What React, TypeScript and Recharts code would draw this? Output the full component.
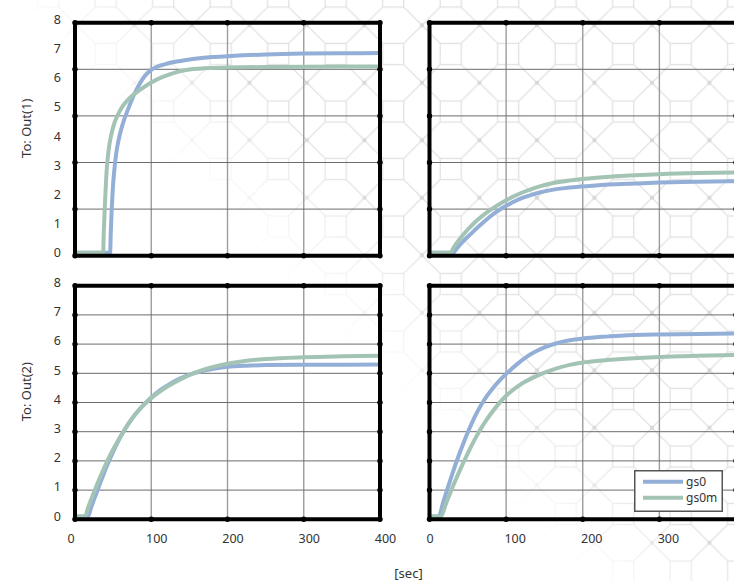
import React from 'react';
import { LineChart, Line, XAxis, YAxis, ReferenceLine, ReferenceDot, Legend } from 'recharts';

// ---------- data ----------
const SERIES_NAMES = ['gs0', 'gs0m'];
const SERIES_COLORS = ['#93afd7', '#a3c4b4'];
const X_TICKS = [0, 100, 200, 300, 400];
const X_LABELS_LEFT = [0, 100, 200, 300, 400];
const X_LABELS_RIGHT = [0, 100, 200, 300];
const Y_TICKS = [0, 1, 2, 3, 4, 5, 6, 7, 8];
const TOP_GRID_Y = [1.6, 3.2, 4.8, 6.4];
const BOTTOM_GRID_Y = [1, 2, 3, 4, 5, 6, 7];
const GRID_X = [100, 200, 300];
const ROW_LABELS = ['To: Out(1)', 'To: Out(2)'];
const X_LABEL = '[sec]';

// [time, value]
const out1Col1Gs0 = [[0,0.1],[46,0.1],[47,0.85],[48,1.5],[49,2.03],[50,2.46],[52,3.06],[54,3.5],[57,3.95],[60,4.28],[64,4.64],[68,4.92],[72,5.19],[77,5.5],[82,5.77],[88,6.04],[94,6.24],[100,6.38],[106,6.47],[112,6.53],[120,6.59],[130,6.65],[142,6.7],[160,6.77],[180,6.82],[200,6.85],[250,6.91],[300,6.94],[350,6.95],[400,6.96]];
const out1Col1Gs0m = [[0,0.1],[37,0.1],[37.5,0.6],[38.5,1.3],[39.5,1.9],[40.6,2.5],[42,3.1],[44,3.6],[46,3.95],[48,4.2],[51,4.5],[55,4.77],[59,4.98],[63,5.15],[69,5.34],[75,5.49],[85,5.69],[100,5.95],[115,6.14],[130,6.28],[142,6.36],[155,6.41],[170,6.44],[200,6.46],[250,6.48],[300,6.49],[400,6.5]];
const out1Col2Gs0 = [[0,0.1],[31,0.1],[36,0.26],[42,0.44],[48,0.6],[54,0.75],[62,0.95],[70,1.14],[78,1.32],[86,1.48],[94,1.62],[102,1.74],[112,1.88],[122,1.99],[132,2.08],[145,2.18],[160,2.26],[180,2.33],[200,2.38],[230,2.44],[260,2.47],[300,2.51],[350,2.54],[400,2.56]];
const out1Col2Gs0m = [[0,0.1],[27,0.1],[32,0.3],[38,0.52],[44,0.72],[50,0.9],[57,1.09],[64,1.26],[72,1.43],[80,1.58],[90,1.75],[100,1.9],[110,2.04],[121,2.17],[132,2.28],[145,2.39],[160,2.49],[180,2.57],[200,2.63],[230,2.7],[260,2.75],[300,2.8],[350,2.84],[400,2.86]];
const out2Col1Gs0 = [[0,0.1],[17,0.1],[21,0.39],[25,0.68],[29,0.96],[33,1.24],[38,1.58],[43,1.9],[48,2.2],[53,2.48],[58,2.74],[64,3.02],[70,3.27],[77,3.53],[84,3.75],[92,3.97],[100,4.17],[108,4.35],[116,4.5],[124,4.63],[133,4.76],[142,4.87],[152,4.97],[165,5.07],[180,5.15],[200,5.22],[225,5.26],[250,5.28],[300,5.29],[400,5.3]];
const out2Col1Gs0m = [[0,0.1],[13,0.1],[17,0.39],[21,0.67],[25,0.94],[29,1.2],[33,1.45],[38,1.75],[43,2.03],[48,2.3],[54,2.58],[60,2.85],[66,3.11],[72,3.34],[78,3.55],[85,3.77],[92,3.96],[100,4.15],[108,4.31],[116,4.46],[124,4.59],[133,4.72],[142,4.84],[152,4.96],[164,5.08],[180,5.21],[200,5.33],[225,5.43],[250,5.49],[300,5.55],[350,5.58],[400,5.6]];
const out2Col2Gs0 = [[0,0.1],[12,0.1],[18,0.6],[24,1.09],[30,1.57],[36,2.03],[44,2.59],[52,3.1],[60,3.56],[67,3.9],[75,4.23],[83,4.5],[91,4.74],[100,4.98],[108,5.17],[116,5.35],[124,5.51],[132,5.65],[141,5.78],[150,5.89],[166,6.03],[183,6.13],[200,6.19],[225,6.25],[250,6.29],[300,6.33],[350,6.35],[400,6.36]];
const out2Col2Gs0m = [[0,0.1],[15,0.1],[21,0.5],[27,0.9],[31,1.16],[36,1.46],[44,1.93],[52,2.37],[60,2.78],[67,3.1],[75,3.43],[83,3.72],[91,3.98],[100,4.23],[108,4.41],[116,4.57],[124,4.7],[132,4.81],[150,5.02],[166,5.17],[183,5.29],[200,5.37],[225,5.44],[250,5.49],[300,5.56],[350,5.6],[400,5.63]];

const toPts = (arr: number[][]) => arr.map(([t, v]) => ({ t, v }));

// ---------- layout ----------
const PAGE_W = 734;
const PAGE_H = 581;
const CHART_W = 740;
const CHART_H = 581;
const FONT = '"Noto Sans", "DejaVu Sans", sans-serif';

const YTick = (props: any) => {
  const { x, y, payload } = props;
  return (
    <text x={x} y={y + 1.3} textAnchor="end" fill="#333" fontSize={12.5} fontFamily={FONT}>
      {payload.value}
    </text>
  );
};

const makeXTick = (zeroShift: number, shift: number) => (props: any) => {
  const { x, y, payload } = props;
  const dx = payload.value === 0 ? zeroShift : shift;
  return (
    <text x={x + dx} y={y + 23.5} textAnchor="middle" fill="#333" fontSize={12.5} fontFamily={FONT}>
      {payload.value}
    </text>
  );
};

const LegendBox = () => (
  <svg width={89} height={42} style={{ display: 'block' }}>
    <rect x={0.75} y={0.75} width={87.5} height={40.5} fill="#fff" stroke="#555" strokeWidth={1.5} />
    {SERIES_NAMES.map((n, i) => (
      <g key={n}>
        <line x1={9} x2={49} y1={11.7 + i * 16} y2={11.7 + i * 16} stroke={SERIES_COLORS[i]} strokeWidth={4} />
        <text x={52} y={15.8 + i * 16} fontSize={12} fill="#333" fontFamily={FONT}>{n}</text>
      </g>
    ))}
  </svg>
);

type PanelProps = {
  plot: { left: number; right: number; top: number; bottom: number };
  gridY: number[];
  series: number[][][];
  showY: boolean;
  showX: boolean;
  xLabels: number[];
  legend?: boolean;
  zeroShift: number;
  shift: number;
};

function Panel({ plot, gridY, series, showY, showX, xLabels, legend, zeroShift, shift }: PanelProps) {
  const yAxisW = 30;
  const xAxisH = 30;
  const margin = {
    left: showY ? plot.left - yAxisW : plot.left,
    top: plot.top,
    right: CHART_W - plot.right,
    bottom: showX ? CHART_H - plot.bottom - xAxisH : CHART_H - plot.bottom,
  };
  const frameDots: { x: number; y: number }[] = [];
  X_TICKS.forEach((x) => { frameDots.push({ x, y: 0 }); frameDots.push({ x, y: 8 }); });
  gridY.forEach((y) => { frameDots.push({ x: 0, y }); frameDots.push({ x: 400, y }); });
  return (
    <div style={{ position: 'absolute', left: 0, top: 0 }}>
      <LineChart width={CHART_W} height={CHART_H} margin={margin}>
        <XAxis
          type="number"
          dataKey="t"
          domain={[0, 400]}
          ticks={xLabels}
          interval={0}
          hide={!showX}
          height={xAxisH}
          axisLine={false}
          tickLine={false}
          tickSize={0}
          tickMargin={0}
          tick={makeXTick(zeroShift, shift)}
        />
        <YAxis
          type="number"
          domain={[0, 8]}
          ticks={Y_TICKS}
          interval={0}
          hide={!showY}
          width={yAxisW}
          axisLine={false}
          tickLine={false}
          tickSize={0}
          tickMargin={14}
          tick={YTick}
        />
        {GRID_X.map((x) => (
          <ReferenceLine key={'gx' + x} x={x} stroke="#9c9c9c" strokeWidth={1.4} />
        ))}
        {gridY.map((y) => (
          <ReferenceLine key={'gy' + y} y={y} stroke="#6c6c6c" strokeWidth={1} />
        ))}
        {series.map((s, i) => (
          <Line
            key={SERIES_NAMES[i]}
            name={SERIES_NAMES[i]}
            data={toPts(s)}
            dataKey="v"
            type="monotone"
            stroke={SERIES_COLORS[i]}
            strokeWidth={4}
            dot={false}
            activeDot={false}
            isAnimationActive={false}
          />
        ))}
        <ReferenceLine y={0} stroke="#000" strokeWidth={4} />
        <ReferenceLine y={8} stroke="#000" strokeWidth={4} />
        <ReferenceLine x={0} stroke="#000" strokeWidth={4} />
        <ReferenceLine x={400} stroke="#000" strokeWidth={4} />
        {frameDots.map((d, i) => (
          <ReferenceDot key={'d' + i} x={d.x} y={d.y} r={2.7} fill="#000" stroke="none" />
        ))}
        {legend && (
          <Legend
            layout="horizontal"
            verticalAlign="middle"
            align="center"
            content={() => <LegendBox />}
            wrapperStyle={{ position: 'absolute', left: 634, top: 469.5, width: 89, height: 42 }}
          />
        )}
      </LineChart>
    </div>
  );
}

function Background() {
  const P = 57.5;
  const s = 21;
  const a = (P - s) / 2;
  const b = a + s;
  return (
    <svg width={PAGE_W} height={PAGE_H} style={{ position: 'absolute', left: 0, top: 0 }}>
      <defs>
        <pattern id="octTile" patternUnits="userSpaceOnUse" x={19.45} y={25.25} width={P} height={P}>
          <rect x={a} y={a} width={s} height={s} fill="none" stroke="#e1e1e1" strokeWidth={1.3} />
          <path
            d={`M${a} ${a} L0 0 M${b} ${a} L${P} 0 M${a} ${b} L0 ${P} M${b} ${b} L${P} ${P}`}
            stroke="#e1e1e1"
            strokeWidth={1.3}
          />
          <rect x={-2} y={-2} width={4} height={4} fill="#d8d8d8" />
          <rect x={P - 2} y={-2} width={4} height={4} fill="#d8d8d8" />
          <rect x={-2} y={P - 2} width={4} height={4} fill="#d8d8d8" />
          <rect x={P - 2} y={P - 2} width={4} height={4} fill="#d8d8d8" />
        </pattern>
        <linearGradient id="octFade" gradientUnits="userSpaceOnUse" x1={290} y1={290} x2={380} y2={200}>
          <stop offset="0" stopColor="#fff" stopOpacity={0} />
          <stop offset="1" stopColor="#fff" stopOpacity={1} />
        </linearGradient>
        <mask id="octMask" maskUnits="userSpaceOnUse" x={0} y={0} width={PAGE_W} height={PAGE_H}>
          <rect x={0} y={0} width={PAGE_W} height={PAGE_H} fill="url(#octFade)" />
        </mask>
      </defs>
      <rect x={0} y={0} width={PAGE_W} height={PAGE_H} fill="url(#octTile)" mask="url(#octMask)" />
      <text x={26} y={128.3} transform="rotate(-90 26 128.3)" textAnchor="middle" dominantBaseline="central" fontSize={13} fill="#333" fontFamily={FONT}>
        {ROW_LABELS[0]}
      </text>
      <text x={26} y={391.7} transform="rotate(-90 26 391.7)" textAnchor="middle" dominantBaseline="central" fontSize={13} fill="#333" fontFamily={FONT}>
        {ROW_LABELS[1]}
      </text>
      <text x={408.5} y={573} textAnchor="middle" dominantBaseline="central" fontSize={13} fill="#333" fontFamily={FONT}>
        {X_LABEL}
      </text>
    </svg>
  );
}

export default function App() {
  const TOP = { top: 22.7, bottom: 255.7 };
  const BOT = { top: 285.7, bottom: 519.3 };
  const LEFT = { left: 75, right: 380 };
  const RIGHT = { left: 429.5, right: 736 };
  return (
    <div style={{ position: 'fixed', left: 0, top: 0, width: PAGE_W, height: PAGE_H, overflow: 'hidden', background: '#fff' }}>
      <Background />
      <Panel plot={{ ...LEFT, ...TOP }} gridY={TOP_GRID_Y} series={[out1Col1Gs0, out1Col1Gs0m]} showY showX={false} xLabels={X_LABELS_LEFT} zeroShift={-4} shift={5.5} />
      <Panel plot={{ ...RIGHT, ...TOP }} gridY={TOP_GRID_Y} series={[out1Col2Gs0, out1Col2Gs0m]} showY={false} showX={false} xLabels={X_LABELS_RIGHT} zeroShift={0.5} shift={9} />
      <Panel plot={{ ...LEFT, ...BOT }} gridY={BOTTOM_GRID_Y} series={[out2Col1Gs0, out2Col1Gs0m]} showY showX xLabels={X_LABELS_LEFT} zeroShift={-4} shift={5.5} />
      <Panel plot={{ ...RIGHT, ...BOT }} gridY={BOTTOM_GRID_Y} series={[out2Col2Gs0, out2Col2Gs0m]} showY={false} showX xLabels={X_LABELS_RIGHT} legend zeroShift={0.5} shift={9} />
    </div>
  );
}
